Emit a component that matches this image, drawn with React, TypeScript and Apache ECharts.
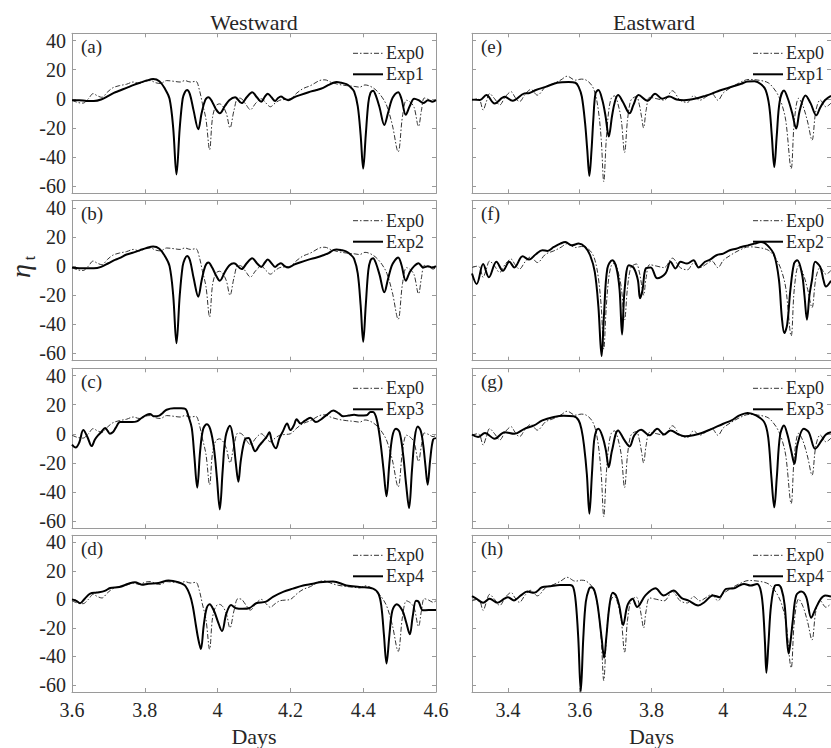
import React, { useEffect, useRef } from "react";
import * as echarts from "echarts";

// ---------- data ----------
const westTicks = [3.6, 3.8, 4, 4.2, 4.4, 4.6];
const eastTicks = [3.4, 3.6, 3.8, 4, 4.2];
const yTicks = [-60, -40, -20, 0, 20, 40];
const panelLabels = ["(a)", "(b)", "(c)", "(d)", "(e)", "(f)", "(g)", "(h)"];
const dashedName = "Exp0";
const solidNames = ["Exp1", "Exp2", "Exp3", "Exp4"];
const columnTitles = ["Westward", "Eastward"];

const westExp0 = [
  [3.600, -1], [3.615, -2.5], [3.630, -3], [3.645, 0], [3.658, 3.5], [3.670, 2], [3.682, 1], [3.697, 4.5],
  [3.712, 7.5], [3.730, 9], [3.750, 10], [3.768, 11.5], [3.785, 10.5], [3.800, 12], [3.815, 12.5], [3.830, 11],
  [3.843, 10.5], [3.860, 12.5], [3.880, 12], [3.897, 11.5], [3.910, 12.5], [3.925, 11.5], [3.940, 12],
  [3.950, 6], [3.958, -3], [3.968, -14], [3.978, -35], [3.986, -13], [3.995, -5], [4.005, -3.5], [4.014, -5],
  [4.024, -10], [4.034, -20], [4.045, -8], [4.056, 0.5], [4.066, 0], [4.078, -4], [4.090, -7.5], [4.105, -3],
  [4.120, 0], [4.133, -3], [4.145, -5.5], [4.158, -3], [4.171, -1], [4.185, -0.5], [4.200, 0], [4.218, 4],
  [4.235, 7], [4.255, 9], [4.280, 12.5], [4.295, 13], [4.310, 11.5], [4.330, 10], [4.355, 9], [4.375, 8.5],
  [4.390, 8], [4.405, 9.5], [4.420, 8.5], [4.435, 6], [4.452, 1], [4.465, -5], [4.480, -18], [4.496, -36.5],
  [4.508, -12], [4.519, -1], [4.530, -2.5], [4.540, -6], [4.552, -19], [4.560, -8], [4.568, 0.5], [4.580, -0.5],
  [4.592, -2], [4.600, -1],
];

const westExp1 = [
  [3.600, -1], [3.620, -1], [3.640, -1.5], [3.660, -1.5], [3.680, -0.5], [3.700, 2], [3.715, 4], [3.730, 5.5],
  [3.750, 7.5], [3.770, 9.5], [3.787, 11], [3.805, 12.5], [3.823, 13.5], [3.840, 12], [3.855, 7], [3.868, 0],
  [3.878, -20], [3.887, -52], [3.896, -20], [3.904, 0], [3.910, 4.5], [3.916, 6], [3.924, 3], [3.934, -8],
  [3.947, -21], [3.956, -10], [3.966, -1], [3.975, 1], [3.985, -2], [3.995, -7], [4.006, -10], [4.020, -5],
  [4.032, -1], [4.048, 1], [4.066, -3], [4.080, 1], [4.095, 4.5], [4.108, 1], [4.120, -2], [4.130, 1.5],
  [4.138, 3.5], [4.148, 1], [4.158, -1.5], [4.166, 0.5], [4.174, 1.5], [4.184, 0], [4.194, -1], [4.210, 1],
  [4.226, 2.5], [4.250, 4.5], [4.272, 6], [4.290, 7.5], [4.305, 9.5], [4.318, 11], [4.327, 11.5], [4.340, 11],
  [4.354, 10], [4.365, 8], [4.375, 5], [4.385, -5], [4.393, -25], [4.400, -48], [4.407, -25], [4.414, -3],
  [4.420, 4], [4.427, 5.5], [4.435, 2], [4.445, -6], [4.458, -18], [4.468, -10], [4.478, -1], [4.487, 3],
  [4.496, 4.5], [4.505, 0], [4.517, -11], [4.528, -5], [4.540, 0], [4.552, -1], [4.565, -3], [4.578, -1],
  [4.590, -2], [4.600, -1],
];

const westExp2 = [
  [3.600, -1], [3.620, -1.5], [3.640, -1.5], [3.660, -1.5], [3.680, -0.5], [3.700, 2], [3.715, 4], [3.730, 5.5],
  [3.750, 8], [3.770, 9.5], [3.787, 11], [3.805, 12.5], [3.823, 13.5], [3.840, 12], [3.855, 7], [3.868, 0],
  [3.878, -20], [3.887, -53], [3.896, -20], [3.904, 0], [3.910, 5], [3.916, 7], [3.924, 4], [3.934, -8],
  [3.947, -21], [3.956, -10], [3.966, 0], [3.975, 2.5], [3.985, -1], [3.995, -6], [4.006, -10], [4.020, -4],
  [4.032, 0.5], [4.045, 2], [4.066, -2], [4.080, 2], [4.095, 5.5], [4.108, 2], [4.120, -0.5], [4.130, 2.5],
  [4.138, 4.5], [4.148, 2], [4.158, -0.5], [4.166, 1], [4.174, 2], [4.184, 0], [4.194, -1], [4.210, 1],
  [4.226, 2.5], [4.250, 4.5], [4.272, 6], [4.290, 7.5], [4.305, 9], [4.318, 11], [4.327, 11.5], [4.340, 11],
  [4.354, 10], [4.365, 8], [4.375, 5], [4.385, -5], [4.393, -27], [4.400, -52], [4.407, -27], [4.414, -3],
  [4.420, 4], [4.427, 5.5], [4.435, 2], [4.445, -6], [4.458, -18], [4.468, -9], [4.478, 0], [4.487, 4],
  [4.496, 6], [4.505, 1], [4.517, -10], [4.528, -4], [4.540, 0], [4.552, 2], [4.565, -1], [4.578, 0],
  [4.590, -1], [4.600, 0],
];

const westExp3 = [
  [3.600, -7.5], [3.610, -9.5], [3.620, -6], [3.631, 2.5], [3.642, -2], [3.654, -8.5], [3.663, -4], [3.672, -1],
  [3.680, 1], [3.691, 4], [3.698, 2], [3.704, 0], [3.712, 1], [3.720, 4], [3.732, 8], [3.750, 8], [3.765, 8],
  [3.778, 8.5], [3.792, 11], [3.805, 13], [3.814, 13.5], [3.826, 12], [3.840, 12.5], [3.850, 14.5], [3.860, 16.5],
  [3.880, 17.5], [3.900, 17.5], [3.912, 17], [3.920, 12], [3.929, 4], [3.936, -15], [3.944, -37], [3.952, -12],
  [3.960, 3], [3.970, 6.5], [3.980, 3], [3.990, -10], [3.998, -30], [4.006, -52], [4.014, -25], [4.022, -2],
  [4.034, 5.5], [4.042, -2], [4.050, -20], [4.057, -33], [4.064, -18], [4.075, -4], [4.085, -3], [4.095, -8],
  [4.103, -12], [4.115, -8], [4.125, -5], [4.135, -2], [4.142, 1], [4.150, -6], [4.160, -10], [4.170, -3],
  [4.180, 2], [4.191, 7], [4.200, 2.5], [4.210, 6], [4.217, 10], [4.228, 7], [4.240, 9], [4.255, 11],
  [4.270, 8], [4.285, 10], [4.300, 13], [4.318, 16], [4.333, 14], [4.345, 12], [4.360, 12.5], [4.375, 13],
  [4.390, 12.5], [4.409, 12.7], [4.420, 15], [4.427, 15], [4.437, 10], [4.447, -5], [4.456, -25], [4.464, -43],
  [4.472, -20], [4.480, -2], [4.490, 3.5], [4.500, 1], [4.510, -15], [4.518, -35], [4.526, -51], [4.534, -25],
  [4.542, -2], [4.550, 5], [4.558, 2], [4.565, -8], [4.571, -22], [4.577, -35], [4.584, -18], [4.592, -4],
  [4.600, -3],
];

const westExp4 = [
  [3.600, 0], [3.612, -1], [3.622, -2.7], [3.635, 0.5], [3.650, 4], [3.668, 4.8], [3.690, 6], [3.705, 8],
  [3.730, 8.7], [3.755, 11], [3.773, 12.1], [3.792, 10.3], [3.810, 11], [3.838, 11.5], [3.865, 13.3],
  [3.892, 12.1], [3.910, 9.8], [3.924, 3], [3.932, -5], [3.940, -17.6], [3.947, -28], [3.954, -34.8],
  [3.962, -18], [3.970, -6], [3.978, -3.4], [3.990, -8], [4.000, -15], [4.012, -22.2], [4.024, -10],
  [4.037, -3.9], [4.051, -6.2], [4.069, -6.6], [4.088, -6], [4.106, -2.7], [4.133, -1.6], [4.152, 1.8],
  [4.180, 5.3], [4.207, 7.6], [4.235, 9.8], [4.262, 11], [4.281, 12.1], [4.317, 12.6], [4.354, 9.8],
  [4.390, 8.7], [4.427, 7.6], [4.442, 4], [4.450, -5], [4.457, -25], [4.464, -45], [4.472, -25], [4.480, -8],
  [4.492, -3.4], [4.508, -8], [4.518, -16], [4.528, -24.5], [4.536, -12], [4.545, -1], [4.552, -1.5],
  [4.564, -7.7], [4.580, -7.5], [4.600, -7.5],
];

const eastExp0 = [
  [3.300, -1], [3.315, 0], [3.322, -1], [3.331, -7.7], [3.340, -2], [3.349, 3.5], [3.363, 0], [3.377, -4.3],
  [3.393, 1.5], [3.409, 4.8], [3.420, 1], [3.432, -2], [3.448, 3], [3.464, 6.4], [3.482, 2.5], [3.505, 8.2],
  [3.528, 10.5], [3.548, 13], [3.565, 15.5], [3.588, 12.8], [3.605, 13.5], [3.618, 12.8], [3.633, 9.4],
  [3.643, 3.7], [3.652, -8], [3.660, -28], [3.667, -57], [3.674, -28], [3.681, -8], [3.688, 0.3], [3.697, 2],
  [3.706, -3], [3.716, -15], [3.725, -37], [3.733, -15], [3.741, -2], [3.748, 0.5], [3.758, 1.5], [3.766, -4],
  [3.772, -12], [3.778, -20], [3.785, -8], [3.795, 1], [3.815, 0], [3.835, -1], [3.858, 5.5], [3.880, -1],
  [3.900, -2.5], [3.917, 2], [3.935, -1], [3.950, 1], [3.968, 3.5], [3.985, -1], [4.000, 4], [4.020, 7.5],
  [4.045, 11], [4.072, 13.3], [4.105, 12.5], [4.125, 11], [4.137, 8.2], [4.150, 3.7], [4.162, -3], [4.174, -15],
  [4.189, -48], [4.198, -15], [4.210, 0.3], [4.222, -5], [4.235, -16], [4.247, -28.5], [4.258, -8], [4.270, -0.9],
  [4.286, -5.5], [4.300, -3],
];

const eastExp1 = [
  [3.300, -0.6], [3.322, -0.9], [3.340, 2.5], [3.363, -3.2], [3.391, 1.4], [3.413, -1.4], [3.446, 3.7],
  [3.460, 4], [3.478, 6], [3.505, 8.2], [3.537, 11], [3.569, 11.6], [3.588, 11], [3.597, 8.2], [3.606, 1.4],
  [3.615, -16.8], [3.621, -35], [3.627, -53], [3.633, -35], [3.638, -14], [3.644, 3.7], [3.652, 6],
  [3.663, -0.9], [3.672, -12], [3.681, -26], [3.690, -12], [3.698, -2], [3.707, 2.5], [3.720, -2],
  [3.739, -10], [3.750, -4], [3.764, 2.5], [3.789, -1.4], [3.810, 3.5], [3.830, 0], [3.850, 1.5],
  [3.870, -0.5], [3.890, -1], [3.910, -0.5], [3.930, 0.5], [3.950, 2], [3.968, 3.5], [3.990, 5.7],
  [4.015, 7.6], [4.050, 10.3], [4.068, 11.9], [4.087, 12], [4.105, 10], [4.118, 6], [4.128, -5], [4.135, -25],
  [4.142, -47], [4.149, -25], [4.157, -2], [4.169, 5.7], [4.180, 0], [4.192, -10], [4.203, -20.5], [4.213, -8],
  [4.229, 2.3], [4.243, -3], [4.259, -11.4], [4.270, -6], [4.283, -1], [4.300, 2],
];

const eastExp2 = [
  [3.300, -5], [3.313, -12.3], [3.331, 1.4], [3.347, -7.7], [3.368, 3], [3.386, -3.2], [3.404, 3], [3.418, -0.9],
  [3.441, 6.8], [3.459, 4.5], [3.478, 8.2], [3.496, 10.9], [3.510, 10.5], [3.528, 13.2], [3.546, 15.5],
  [3.560, 16.6], [3.578, 14.3], [3.597, 15.5], [3.615, 13.2], [3.629, 7.5], [3.642, -3.9], [3.652, -27.7],
  [3.661, -61.8], [3.668, -32], [3.677, -1.6], [3.691, 4.1], [3.702, -0.9], [3.711, -16], [3.718, -47],
  [3.725, -16.4], [3.737, 0.7], [3.750, -1], [3.762, -9.5], [3.768, -22], [3.775, -16.4], [3.784, -1.6],
  [3.798, -0.9], [3.816, -8.4], [3.839, -5], [3.853, 3], [3.867, -1.6], [3.881, 3], [3.899, 1.8], [3.917, 4.1],
  [3.931, -0.9], [3.949, 3], [3.963, 4.5], [3.981, 7.5], [4.000, 8.6], [4.018, 10.9], [4.036, 12], [4.050, 13.2],
  [4.068, 14.3], [4.087, 15.5], [4.105, 16.6], [4.123, 14.3], [4.142, 7.5], [4.155, -9.5], [4.163, -35],
  [4.170, -46], [4.178, -40], [4.187, -16], [4.197, 1.8], [4.206, 4.1], [4.219, -5], [4.226, -20], [4.233, -36.8],
  [4.240, -20], [4.247, -9.5], [4.256, 3], [4.270, -0.5], [4.279, -9.5], [4.286, -14], [4.300, -10],
];

const eastExp3 = [
  [3.300, -0.5], [3.317, -2.3], [3.336, 0.5], [3.363, -3.4], [3.391, 1.1], [3.418, 0], [3.446, 3.4], [3.473, 5.7],
  [3.496, 9.2], [3.528, 11.5], [3.555, 12.4], [3.583, 12], [3.597, 9.2], [3.605, 3], [3.612, -8], [3.620, -28],
  [3.627, -55], [3.634, -28], [3.640, -5], [3.646, 2], [3.652, 3.4], [3.664, -2.3], [3.673, -11.5], [3.681, -23],
  [3.690, -11.5], [3.707, 2.3], [3.725, -4.6], [3.739, -8.7], [3.752, -1.1], [3.771, 2.8], [3.794, -1.1],
  [3.816, 3.4], [3.835, -0.5], [3.853, 2.3], [3.876, -0.5], [3.894, -1.8], [3.917, -1.1], [3.940, 0.5],
  [3.968, 3.4], [4.000, 6.9], [4.023, 9.2], [4.045, 12.6], [4.068, 14.3], [4.091, 12.6], [4.114, 8],
  [4.125, -2.3], [4.134, -30], [4.142, -50.6], [4.149, -30], [4.158, -1.1], [4.169, 5.7], [4.178, 0],
  [4.189, -11.5], [4.198, -20.7], [4.207, -6.9], [4.224, 3.4], [4.238, 1.1], [4.256, -10.3], [4.274, -4.6],
  [4.286, -0.5], [4.300, 1],
];

const eastExp4 = [
  [3.300, 2.3], [3.312, 0.5], [3.331, -2.3], [3.349, 0.5], [3.371, -2.3], [3.390, 0.5], [3.400, 1.5],
  [3.417, -0.7], [3.436, 2.8], [3.454, 5.5], [3.473, 4.6], [3.495, 8.5], [3.518, 9.2], [3.545, 10.1],
  [3.573, 10.1], [3.582, 8.5], [3.589, -1.8], [3.596, -27], [3.603, -64.6], [3.610, -27], [3.617, -1.8],
  [3.626, 7.4], [3.632, 8.5], [3.641, 6.2], [3.650, -4.2], [3.661, -27], [3.668, -41], [3.674, -27],
  [3.683, -4.2], [3.692, 4.6], [3.701, 2.8], [3.710, -4.2], [3.721, -18], [3.733, -4.2], [3.747, 0.5],
  [3.760, -5.3], [3.783, 2.8], [3.811, 7.8], [3.834, 2.8], [3.861, 6.2], [3.884, 0.9], [3.902, -0.7],
  [3.930, -4.2], [3.948, -1.8], [3.971, 2.8], [3.989, 1.6], [4.008, 7.4], [4.030, 7.8], [4.044, 9.7],
  [4.058, 10.8], [4.076, 9.7], [4.094, 10.8], [4.103, 7.4], [4.110, -4.2], [4.116, -30], [4.120, -51.4],
  [4.126, -30], [4.133, -4.2], [4.144, 9.7], [4.153, 10.1], [4.162, 7.4], [4.171, -4.2], [4.178, -30],
  [4.182, -38], [4.187, -30], [4.194, -14], [4.203, 2.8], [4.217, 5.5], [4.231, 1.6], [4.245, -12.9],
  [4.257, -6.5], [4.272, 0.5], [4.284, 2.8], [4.300, 2],
];

// ---------- chart ----------
const FONT = "Liberation Serif";
const AXIS_COLOR = "#9a9a9a";
const TEXT_COLOR = "#262626";
const DASH_COLOR = "#333333";
const DASH_PATTERN = [5, 2, 1.5, 2];

export default function App() {
  const ref = useRef<HTMLDivElement>(null);

  useEffect(() => {
    if (!ref.current) return;
    const chart = echarts.init(ref.current, undefined, { renderer: "svg" });

    const colLefts = [72, 472];
    const rowTops = [33.3, 200.7, 368.3, 535.3];
    const W = 364;
    const H = 160;
    const xRanges = [
      [3.6, 4.6],
      [3.3, 4.3],
    ];
    const xTickSets = [westTicks, eastTicks];
    const dashed = [westExp0, eastExp0];
    const solids = [
      [westExp1, westExp2, westExp3, westExp4],
      [eastExp1, eastExp2, eastExp3, eastExp4],
    ];

    const grid: any[] = [];
    const xMain: any[] = [];
    const xMirror: any[] = [];
    const yMain: any[] = [];
    const yMirror: any[] = [];
    const series: any[] = [];
    const graphic: any[] = [];

    const frameAxis = (extra: any) => ({
      type: "value",
      axisLine: { show: true, onZero: false, lineStyle: { color: AXIS_COLOR, width: 1 } },
      splitLine: { show: false },
      ...extra,
    });

    for (let c = 0; c < 2; c++) {
      for (let r = 0; r < 4; r++) {
        const i = c * 4 + r;
        const L = colLefts[c];
        const T = rowTops[r];
        grid.push({ left: L, top: T, width: W, height: H });

        const ticks = xTickSets[c];
        xMain.push(
          frameAxis({
            gridIndex: i,
            position: "bottom",
            min: xRanges[c][0],
            max: xRanges[c][1],
            axisTick: { show: true, inside: true, length: 4, customValues: ticks, lineStyle: { color: AXIS_COLOR } },
            axisLabel: {
              show: r === 3,
              customValues: ticks,
              fontFamily: FONT,
              fontSize: 20,
              color: TEXT_COLOR,
              margin: 8,
              formatter: (v: number) => String(Math.round(v * 10) / 10),
            },
            name: r === 3 ? "Days" : "",
            nameLocation: "middle",
            nameGap: 33,
            nameTextStyle: { fontFamily: FONT, fontSize: 22, color: TEXT_COLOR },
          })
        );
        xMirror.push(
          frameAxis({
            gridIndex: i,
            position: "top",
            min: xRanges[c][0],
            max: xRanges[c][1],
            axisTick: { show: true, inside: true, length: 4, customValues: ticks, lineStyle: { color: AXIS_COLOR } },
            axisLabel: { show: false },
          })
        );
        yMain.push(
          frameAxis({
            gridIndex: i,
            position: "left",
            min: -65,
            max: 45,
            axisTick: { show: true, inside: true, length: 4, customValues: yTicks, lineStyle: { color: AXIS_COLOR } },
            axisLabel: {
              show: c === 0,
              customValues: yTicks,
              fontFamily: FONT,
              fontSize: 20,
              color: TEXT_COLOR,
              margin: 6,
            },
          })
        );
        yMirror.push(
          frameAxis({
            gridIndex: i,
            position: "right",
            min: -65,
            max: 45,
            axisTick: { show: true, inside: true, length: 4, customValues: yTicks, lineStyle: { color: AXIS_COLOR } },
            axisLabel: { show: false },
          })
        );

        series.push({
          type: "line",
          name: dashedName,
          xAxisIndex: i,
          yAxisIndex: i,
          data: dashed[c],
          symbol: "none",
          showSymbol: false,
          smooth: 0.35,
          color: DASH_COLOR,
          lineStyle: { color: DASH_COLOR, width: 1, type: DASH_PATTERN },
          z: 2,
          silent: true,
        });
        series.push({
          type: "line",
          name: solidNames[r],
          xAxisIndex: i,
          yAxisIndex: i,
          data: solids[c][r],
          symbol: "none",
          showSymbol: false,
          smooth: 0.35,
          color: "#000000",
          lineStyle: { color: "#000000", width: 2 },
          z: 3,
          silent: true,
        });

        // legend (drawn as plain line + text, box off like the original)
        const lx = L + 281;
        graphic.push({
          type: "line",
          silent: true,
          shape: { x1: lx, y1: T + 20, x2: lx + 30, y2: T + 20 },
          style: { stroke: DASH_COLOR, lineWidth: 1, lineDash: DASH_PATTERN },
        });
        graphic.push({
          type: "line",
          silent: true,
          shape: { x1: lx, y1: T + 41, x2: lx + 30, y2: T + 41 },
          style: { stroke: "#000000", lineWidth: 2 },
        });
        graphic.push({
          type: "text",
          x: lx + 33,
          y: T + 20,
          silent: true,
          style: { text: dashedName, fontFamily: FONT, fontSize: 18, fill: TEXT_COLOR, verticalAlign: "middle" },
        });
        graphic.push({
          type: "text",
          x: lx + 33,
          y: T + 41,
          silent: true,
          style: { text: solidNames[r], fontFamily: FONT, fontSize: 18, fill: TEXT_COLOR, verticalAlign: "middle" },
        });

        graphic.push({
          type: "text",
          x: L + 9,
          y: T + 13,
          silent: true,
          style: {
            text: panelLabels[i],
            fontFamily: FONT,
            fontSize: 19,
            fill: TEXT_COLOR,
            verticalAlign: "middle",
          },
        });
      }
      graphic.push({
        type: "text",
        x: colLefts[c] + W / 2,
        y: 22,
        silent: true,
        style: {
          text: columnTitles[c],
          fontFamily: FONT,
          fontSize: 22,
          fill: TEXT_COLOR,
          align: "center",
          verticalAlign: "middle",
        },
      });
    }

    // y-axis label: eta with subscript t
    graphic.push({
      type: "text",
      x: 20,
      y: 271,
      rotation: Math.PI / 2,
      silent: true,
      style: {
        text: "η",
        fontFamily: FONT,
        fontSize: 28,
        fontStyle: "italic",
        fill: TEXT_COLOR,
        align: "center",
        verticalAlign: "middle",
      },
    });
    graphic.push({
      type: "text",
      x: 29,
      y: 258,
      rotation: Math.PI / 2,
      silent: true,
      style: {
        text: "t",
        fontFamily: FONT,
        fontSize: 16,
        fill: TEXT_COLOR,
        align: "center",
        verticalAlign: "middle",
      },
    });

    chart.setOption({
      animation: false,
      backgroundColor: "#ffffff",
      grid,
      xAxis: [...xMain, ...xMirror],
      yAxis: [...yMain, ...yMirror],
      series,
      graphic,
    });

    return () => {
      chart.dispose();
    };
  }, []);

  return (
    <div
      ref={ref}
      style={{ position: "absolute", left: 0, top: 0, width: 831, height: 748, background: "#fff" }}
    />
  );
}
